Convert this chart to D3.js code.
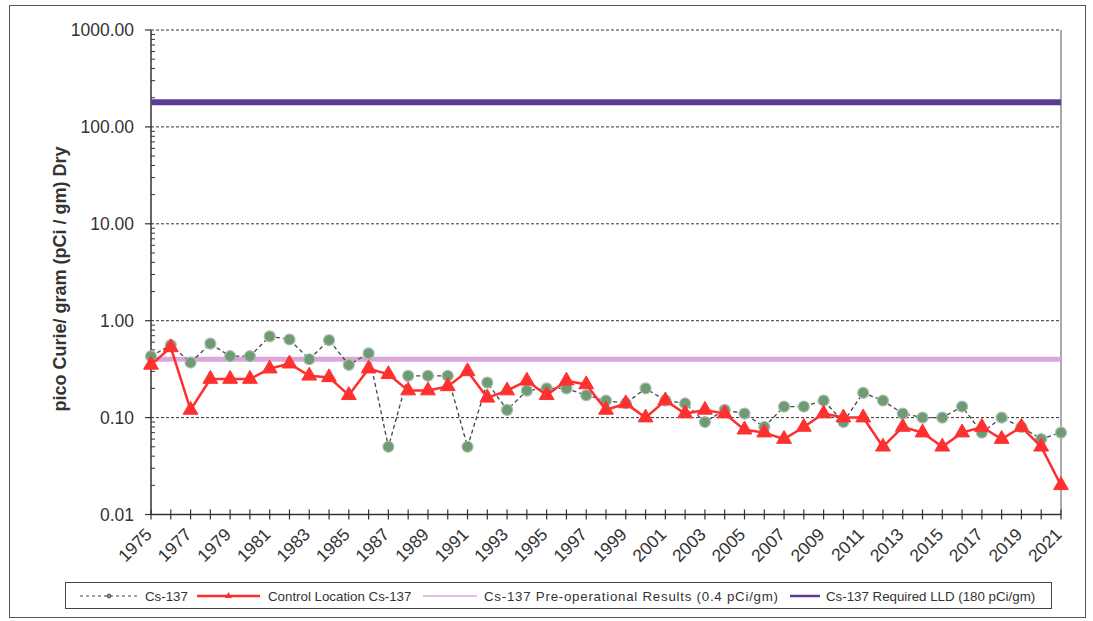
<!DOCTYPE html>
<html>
<head>
<meta charset="utf-8">
<script src="https://cdn.jsdelivr.net/npm/d3@7"></script>
<style>
  html, body { margin: 0; padding: 0; background: #fff; }
  svg { display: block; font-family: Arial, "Liberation Sans", sans-serif; }
</style>
</head>
<body>
<svg id="chart" width="1093" height="621"></svg>
<script>
// Sampling years
const years = d3.range(1975, 2022);

// Indicator location Cs-137 (pCi/gm dry)
const cs137 = [
  0.43, 0.56, 0.37, 0.58, 0.43, 0.43, 0.69, 0.64, 0.40, 0.63,
  0.35, 0.46, 0.05, 0.27, 0.27, 0.27, 0.05, 0.23, 0.12, 0.19,
  0.20, 0.20, 0.17, 0.15, 0.14, 0.20, 0.15, 0.14, 0.09, 0.12,
  0.11, 0.08, 0.13, 0.13, 0.15, 0.09, 0.18, 0.15, 0.11, 0.10,
  0.10, 0.13, 0.07, 0.10, 0.08, 0.06, 0.07
];

// Control location Cs-137 (pCi/gm dry)
const controlCs137 = [
  0.35, 0.53, 0.12, 0.25, 0.25, 0.25, 0.32, 0.36, 0.27, 0.26,
  0.17, 0.32, 0.28, 0.19, 0.19, 0.21, 0.30, 0.16, 0.19, 0.24,
  0.17, 0.24, 0.22, 0.12, 0.14, 0.10, 0.15, 0.11, 0.12, 0.11,
  0.075, 0.07, 0.06, 0.08, 0.11, 0.10, 0.10, 0.05, 0.08, 0.07,
  0.05, 0.07, 0.08, 0.06, 0.08, 0.05, 0.02
];

// Reference levels
const preOperational = 0.4;
const requiredLLD = 180;

// Axis tick values and labels
const yTicks = [0.01, 0.1, 1, 10, 100, 1000];
const yTickLabels = ["0.01", "0.10", "1.00", "10.00", "100.00", "1000.00"];
const xLabelYears = years.filter(y => (y - 1975) % 2 === 0);

const legendLabels = [
  "Cs-137",
  "Control Location Cs-137",
  "Cs-137 Pre-operational Results (0.4 pCi/gm)",
  "Cs-137 Required LLD (180 pCi/gm)"
];

const svg = d3.select("#chart");
const plotLeft = 151, plotRight = 1061, plotTop = 30, plotBottom = 514.5;

const x = d3.scalePoint().domain(years).range([plotLeft, plotRight]);
const y = d3.scaleLog().domain([0.01, 1000]).range([plotBottom, plotTop]);

// outer frame
svg.append("rect")
  .attr("x", 9.5).attr("y", 5.5).attr("width", 1076).attr("height", 612)
  .attr("fill", "none").attr("stroke", "#555").attr("stroke-width", 1);

// horizontal gridlines at each decade
svg.append("g").selectAll("line")
  .data(yTicks.slice(1))
  .join("line")
  .attr("x1", plotLeft).attr("x2", plotRight)
  .attr("y1", d => y(d)).attr("y2", d => y(d))
  .attr("stroke", "#333").attr("stroke-width", 1)
  .attr("stroke-dasharray", "3,2");

// right edge of plot area
svg.append("line")
  .attr("x1", plotRight).attr("x2", plotRight).attr("y1", plotTop).attr("y2", plotBottom)
  .attr("stroke", "#555").attr("stroke-width", 1);

// y axis: major ticks outside, minor ticks inside
const yAxis = svg.append("g");
yAxis.append("line")
  .attr("x1", plotLeft).attr("x2", plotLeft).attr("y1", plotTop).attr("y2", plotBottom)
  .attr("stroke", "#333").attr("stroke-width", 1.5);
yAxis.selectAll(".major").data(yTicks).join("line")
  .attr("class", "major")
  .attr("x1", plotLeft - 6).attr("x2", plotLeft)
  .attr("y1", d => y(d)).attr("y2", d => y(d))
  .attr("stroke", "#333").attr("stroke-width", 1.2);
const minors = [];
for (let e = -2; e < 3; e++) for (let m = 2; m <= 9; m++) minors.push(m * Math.pow(10, e));
yAxis.selectAll(".minor").data(minors).join("line")
  .attr("class", "minor")
  .attr("x1", plotLeft).attr("x2", plotLeft + 4)
  .attr("y1", d => y(d)).attr("y2", d => y(d))
  .attr("stroke", "#333").attr("stroke-width", 1);
yAxis.selectAll("text").data(yTicks).join("text")
  .attr("x", plotLeft - 17).attr("y", d => y(d))
  .attr("dy", "0.35em").attr("text-anchor", "end")
  .attr("font-size", 17.5).attr("fill", "#333")
  .text((d, i) => yTickLabels[i]);

// y axis title
svg.append("text")
  .attr("transform", `translate(66,279) rotate(-90)`)
  .attr("text-anchor", "middle")
  .attr("font-size", 18).attr("font-weight", "bold").attr("fill", "#333")
  .text("pico Curie/ gram (pCi / gm) Dry");

// x axis
const xAxis = svg.append("g");
xAxis.append("line")
  .attr("x1", plotLeft).attr("x2", plotRight).attr("y1", plotBottom).attr("y2", plotBottom)
  .attr("stroke", "#333").attr("stroke-width", 1.5);
xAxis.selectAll(".tick").data(years).join("line")
  .attr("class", "tick")
  .attr("x1", d => x(d)).attr("x2", d => x(d))
  .attr("y1", plotBottom - 5).attr("y2", plotBottom + 5)
  .attr("stroke", "#333").attr("stroke-width", 1.2);
xAxis.selectAll("text").data(xLabelYears).join("text")
  .attr("transform", d => `translate(${x(d) + 2},${plotBottom + 21}) rotate(-45)`)
  .attr("text-anchor", "end")
  .attr("font-size", 17.5).attr("fill", "#333")
  .text(d => d);

// reference lines
svg.append("line")
  .attr("x1", plotLeft).attr("x2", plotRight)
  .attr("y1", y(requiredLLD)).attr("y2", y(requiredLLD))
  .attr("stroke", "#5c3d94").attr("stroke-width", 6);
svg.append("line")
  .attr("x1", plotLeft).attr("x2", plotRight)
  .attr("y1", y(preOperational)).attr("y2", y(preOperational))
  .attr("stroke", "#dba6dc").attr("stroke-width", 5);

const line = d3.line().x(d => x(d[0])).y(d => y(d[1]));
const csData = years.map((yr, i) => [yr, cs137[i]]);
const ctlData = years.map((yr, i) => [yr, controlCs137[i]]);

// indicator series: dashed line with circles
svg.append("path").datum(csData)
  .attr("d", line).attr("fill", "none")
  .attr("stroke", "#444").attr("stroke-width", 1.3)
  .attr("stroke-dasharray", "4,3");
svg.append("g").selectAll("circle").data(csData).join("circle")
  .attr("cx", d => x(d[0])).attr("cy", d => y(d[1])).attr("r", 5.5)
  .attr("fill", "#6f9a74").attr("stroke", "#a9c0b0").attr("stroke-width", 1.2);

// control series: red line with triangles
svg.append("path").datum(ctlData)
  .attr("d", line).attr("fill", "none")
  .attr("stroke", "#ff2d2d").attr("stroke-width", 2.5);
const tri = d3.symbol().type(d3.symbolTriangle).size(95);
svg.append("g").selectAll("path").data(ctlData).join("path")
  .attr("transform", d => `translate(${x(d[0])},${y(d[1])})`)
  .attr("d", tri)
  .attr("fill", "#ff3030").attr("stroke", "#ff3030").attr("stroke-width", 1);

// legend
const lg = svg.append("g");
lg.append("rect")
  .attr("x", 65.5).attr("y", 582.5).attr("width", 986).attr("height", 26)
  .attr("fill", "#fff").attr("stroke", "#444").attr("stroke-width", 1);
const ly = 596;
const items = [
  { x1: 80, x2: 138, tx: 145, stroke: "#444", w: 1.2, dash: "3,3", marker: "circle", len: null },
  { x1: 197, x2: 260, tx: 268, stroke: "#ff2d2d", w: 2.5, dash: null, marker: "tri", len: null },
  { x1: 423, x2: 477, tx: 484, stroke: "#dba6dc", w: 1.5, dash: null, marker: null, len: 294 },
  { x1: 790, x2: 820, tx: 826, stroke: "#5c3d94", w: 2.5, dash: null, marker: null, len: null }
];
items.forEach((it, i) => {
  lg.append("line")
    .attr("x1", it.x1).attr("x2", it.x2).attr("y1", ly).attr("y2", ly)
    .attr("stroke", it.stroke).attr("stroke-width", it.w)
    .attr("stroke-dasharray", it.dash);
  const mx = (it.x1 + it.x2) / 2;
  if (it.marker === "circle") {
    lg.append("circle").attr("cx", mx).attr("cy", ly).attr("r", 2)
      .attr("fill", "#6f9a74").attr("stroke", "#444").attr("stroke-width", 0.8);
  } else if (it.marker === "tri") {
    lg.append("path").attr("transform", `translate(${mx},${ly})`)
      .attr("d", d3.symbol().type(d3.symbolTriangle).size(22))
      .attr("fill", "#ff3030");
  }
  const t = lg.append("text")
    .attr("x", it.tx).attr("y", ly).attr("dy", "0.35em")
    .attr("font-size", 13.3).attr("fill", "#333")
    .text(legendLabels[i]);
  if (it.len) t.attr("textLength", it.len).attr("lengthAdjust", "spacing");
});
</script>
</body>
</html>
